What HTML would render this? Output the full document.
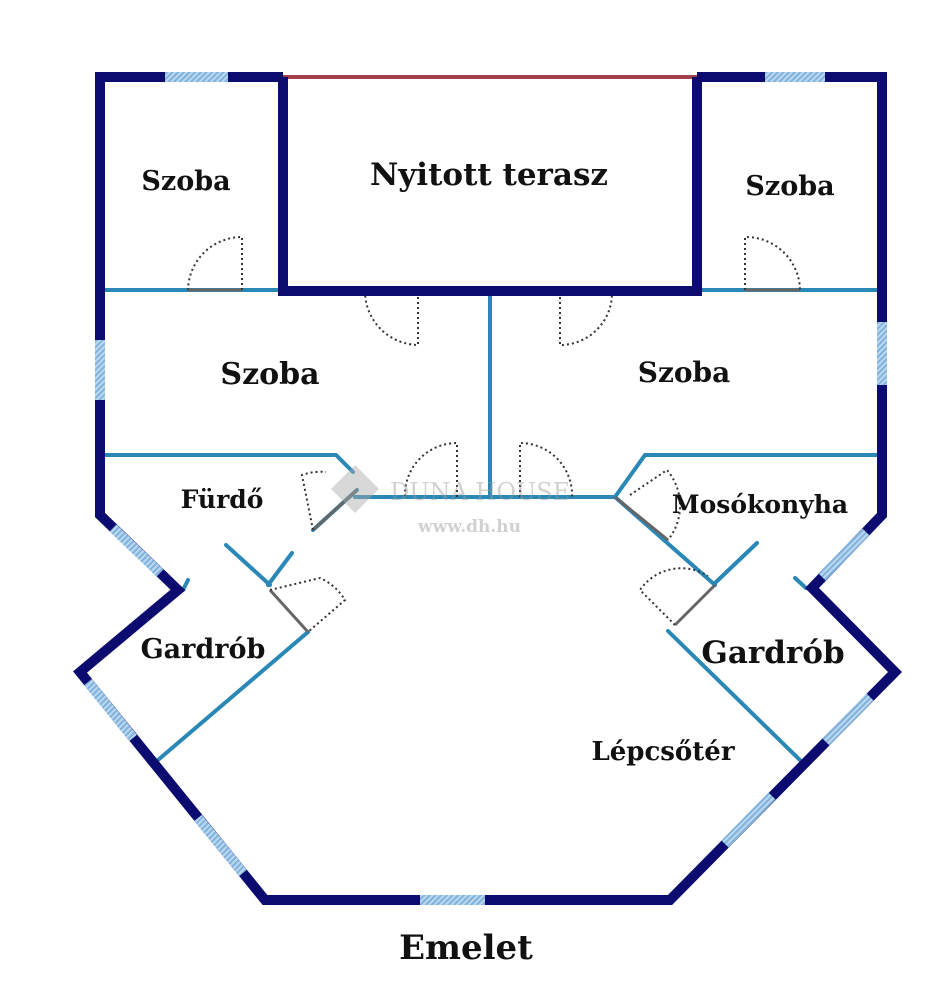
<!DOCTYPE html>
<html><head><meta charset="utf-8"><style>
html,body{margin:0;padding:0;background:#fff;}
svg{display:block}
text{font-family:"DejaVu Serif","Liberation Serif",serif;font-weight:bold;fill:#111;}
</style></head><body>
<svg width="949" height="1000" viewBox="0 0 949 1000" xmlns="http://www.w3.org/2000/svg">
<defs>
<pattern id="h" width="4" height="4" patternUnits="userSpaceOnUse" patternTransform="rotate(45)">
<rect width="4" height="4" fill="#bcd8ef"/><rect width="2" height="4" fill="#7fb2dc"/>
</pattern>
</defs>
<line x1="283" y1="77" x2="697" y2="77" stroke="#a0404a" stroke-width="4"/>
<g stroke="#2a88b6" stroke-width="4" fill="none" stroke-linecap="round">
<line x1="100" y1="290" x2="283" y2="290"/>
<line x1="697" y1="290" x2="882" y2="290"/>
<line x1="490" y1="292" x2="490" y2="497"/>
<polyline points="100,455 336,455 353,472"/>
<line x1="355" y1="497" x2="615" y2="497"/>
<polyline points="882,455 645,455 615,497 715,585"/>
<polyline points="357,490 313,530"/>
<polyline points="292,553 268,585"/>
<line x1="226" y1="545" x2="270" y2="585"/>
<line x1="308" y1="632" x2="158" y2="760"/>
<line x1="757" y1="543" x2="715" y2="583"/>
<polyline points="668,631 805,765"/>
<line x1="795" y1="578" x2="806" y2="588"/>
<line x1="183" y1="590" x2="188" y2="580"/>
</g>
<g stroke="#666" stroke-width="3">
<line x1="188" y1="290" x2="242" y2="290"/>
<line x1="745" y1="290" x2="800" y2="290"/>
<line x1="313" y1="530" x2="357" y2="490"/>
<line x1="270" y1="590" x2="308" y2="632"/>
<line x1="615" y1="497" x2="668" y2="540"/>
<line x1="715" y1="585" x2="675" y2="625"/>
</g>
<g stroke="#c9bfe0" stroke-width="8">
<line x1="365" y1="292" x2="418" y2="292"/>
<line x1="560" y1="292" x2="612" y2="292"/>
</g>
<g stroke="#333" stroke-width="2" stroke-dasharray="2,3" fill="none">
<path d="M242,290 V237 A54,54 0 0 0 188,290"/>
<path d="M745,290 V237 A54,54 0 0 1 800,290"/>
<path d="M418,292 V345 A54,54 0 0 1 365,292"/>
<path d="M560,292 V345 A52,52 0 0 0 612,292"/>
<path d="M457,497 V443 A52,52 0 0 0 405,497"/>
<path d="M520,497 V443 A52,52 0 0 1 572,497"/>
<path d="M313,530 L302,475 A55,55 0 0 1 326,472"/>
<path d="M270,590 L320,578 A55,55 0 0 1 345,600 L308,632"/>
<path d="M630,495 L667,470 A55,55 0 0 1 668,540"/>
<path d="M675,625 L640,590 A50,50 0 0 1 708,576"/>
</g>
<g stroke="#0c0c70" stroke-width="10" fill="none" stroke-linejoin="miter">
<polyline points="283,77 100,77 100,515 178,590 80,672 265,900 670,900 895,672 812,588 882,515 882,77 697,77"/>
<polyline points="283,77 283,291 697,291 697,77"/>
</g>
<g stroke="url(#h)" stroke-width="10">
<line x1="165" y1="77" x2="228" y2="77"/>
<line x1="765" y1="77" x2="825" y2="77"/>
<line x1="100" y1="340" x2="100" y2="400"/>
<line x1="882" y1="322" x2="882" y2="385"/>
<line x1="113" y1="528" x2="160" y2="573"/>
<line x1="88" y1="682" x2="133" y2="738"/>
<line x1="198" y1="818" x2="243" y2="873"/>
<line x1="420" y1="900" x2="485" y2="900"/>
<line x1="725" y1="844" x2="772" y2="796"/>
<line x1="826" y1="742" x2="870" y2="697"/>
<line x1="822" y1="577" x2="866" y2="532"/>
</g>
<g opacity="0.45">
<rect x="338" y="472" width="34" height="34" transform="rotate(45 355 489)" fill="#aaa"/>
<text x="390" y="500" font-size="24" style="fill:#9a9a9a;font-weight:normal">DUNA HOUSE</text>
<text x="418" y="532" font-size="17" style="fill:#9a9a9a">www.dh.hu</text>
</g>
<text x="186" y="190" font-size="27" text-anchor="middle">Szoba</text>
<text x="489" y="185" font-size="31" text-anchor="middle">Nyitott terasz</text>
<text x="790" y="195" font-size="27" text-anchor="middle">Szoba</text>
<text x="270" y="384" font-size="30" text-anchor="middle">Szoba</text>
<text x="684" y="382" font-size="28" text-anchor="middle">Szoba</text>
<text x="222" y="508" font-size="25" text-anchor="middle">Fürdő</text>
<text x="760" y="513" font-size="25" text-anchor="middle">Mosókonyha</text>
<text x="203" y="658" font-size="27" text-anchor="middle">Gardrób</text>
<text x="773" y="663" font-size="31" text-anchor="middle">Gardrób</text>
<text x="663" y="760" font-size="26" text-anchor="middle">Lépcsőtér</text>
<text x="466" y="959" font-size="34" text-anchor="middle">Emelet</text>
</svg>
</body></html>
